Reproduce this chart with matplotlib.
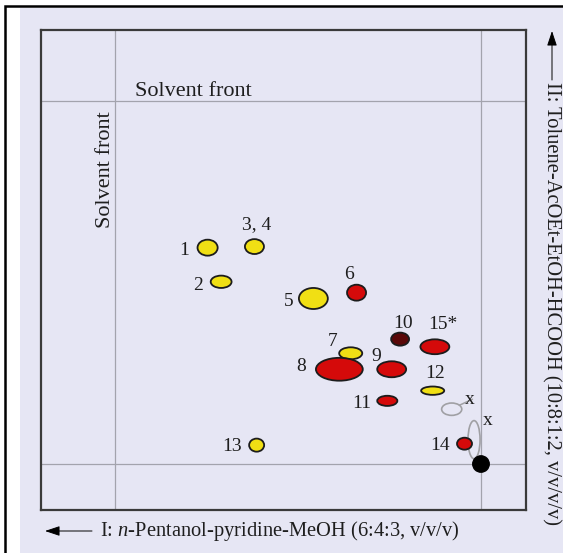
import matplotlib
matplotlib.use("Agg")
import matplotlib.pyplot as plt
from matplotlib.patches import Ellipse, Rectangle
from matplotlib.lines import Line2D
import numpy as np

plt.rcParams['font.family'] = ['Liberation Serif', 'DejaVu Serif']
plt.rcParams['mathtext.fontset'] = 'custom'
plt.rcParams['mathtext.rm'] = 'Liberation Serif'
plt.rcParams['mathtext.it'] = 'Liberation Serif:italic'

# ---------------- data (Rf values on the 2D TLC plate) ----------------
labels = ['1', '3, 4', '2', '5', '6', '7', '8', '9', '10', '11', '12', '13', '14', '15*']
rf_I = [0.747, 0.619, 0.710, 0.458, 0.340, 0.356, 0.387, 0.244, 0.221, 0.256, 0.132, 0.613, 0.045, 0.126]
rf_II = [0.596, 0.599, 0.502, 0.456, 0.472, 0.305, 0.261, 0.261, 0.344, 0.174, 0.202, 0.052, 0.056, 0.323]
spot_w = [0.055, 0.052, 0.057, 0.079, 0.052, 0.063, 0.128, 0.079, 0.049, 0.055, 0.063, 0.041, 0.041, 0.079]
spot_h = [0.044, 0.041, 0.034, 0.058, 0.044, 0.033, 0.063, 0.044, 0.036, 0.028, 0.023, 0.036, 0.033, 0.041]
spot_colour = ['yellow', 'yellow', 'yellow', 'yellow', 'red', 'yellow', 'red', 'red', 'brown',
               'red', 'yellow', 'yellow', 'red', 'red']

unknown_labels = ['x', 'x']
unknown_rf_I = [0.080, 0.019]
unknown_rf_II = [0.151, 0.067]
unknown_w = [0.055, 0.033]
unknown_h = [0.034, 0.105]

origin_rf = [0.0, 0.0]
solvent_front_rf = 1.0

axis_I_title = 'I: $n$-Pentanol-pyridine-MeOH (6:4:3, v/v/v)'
axis_II_title = 'II: Toluene-AcOEt-EtOH-HCOOH (10:8:1:2, v/v/v/v)'
front_label = 'Solvent front'

# ---------------- styles / layout ----------------
colour_map = {'yellow': '#f0df14', 'red': '#d50a0a', 'brown': '#5a0808'}
label_offsets = {  # pixels (dx, dy up)
    '1': (-23, -3), '3, 4': (2, 22), '2': (-23, -4), '5': (-25, -3), '6': (-8, 18),
    '7': (-18, 12), '8': (-38, 3), '9': (-15, 13), '10': (3, 16), '11': (-26, -3),
    '12': (2, 17), '13': (-25, -1), '14': (-24, -2), '15*': (8, 22)}
unknown_offsets = [(18, 10), (14, 19)]
text_colour = '#1e1e1e'

W, H = 563, 553
fig = plt.figure(figsize=(W / 100, H / 100), dpi=100)
fig.patch.set_facecolor('white')

bg = fig.add_axes([0, 0, 1, 1], zorder=0)
bg.set_xlim(0, W)
bg.set_ylim(H, 0)
bg.axis('off')
bg.add_patch(Rectangle((20, 8), W - 20, H - 8, facecolor='#e6e6f4', edgecolor='none'))
bg.add_line(Line2D([5, 5, W], [H, 6, 6], color='black', lw=1.8, solid_joinstyle='miter'))

# axis direction arrows + titles
bg.annotate('', xy=(45, 531), xytext=(92, 531),
            arrowprops=dict(arrowstyle='-|>,head_length=0.9,head_width=0.3', color='black',
                            lw=0.7, shrinkA=0, shrinkB=0))
bg.text(100, 531, axis_I_title, fontsize=14.8, color=text_colour, ha='left', va='center')
bg.annotate('', xy=(552, 31), xytext=(552, 80),
            arrowprops=dict(arrowstyle='-|>,head_length=0.9,head_width=0.3', color='black',
                            lw=0.7, shrinkA=0, shrinkB=0))
bg.text(551, 82, axis_II_title, fontsize=14.8, color=text_colour, rotation=270,
        ha='center', va='top')

# ---------------- plate ----------------
x0, x1, y0, y1 = 41, 526, 29.5, 510
ax = fig.add_axes([x0 / W, 1 - y1 / H, (x1 - x0) / W, (y1 - y0) / H], zorder=1)
ax.set_facecolor('none')
ax.set_xlim(1.2022, -0.1230)
ax.set_ylim(-0.1267, 1.197)
ax.set_xticks([])
ax.set_yticks([])
for s in ax.spines.values():
    s.set_color('#3a3a3a')
    s.set_linewidth(1.6)

line_kw = dict(color='#a3a3ad', lw=0.9, zorder=1)
ax.axvline(solvent_front_rf, **line_kw)
ax.axvline(origin_rf[0], **line_kw)
ax.axhline(solvent_front_rf, **line_kw)
ax.axhline(origin_rf[1], **line_kw)

ax.text(0.786, solvent_front_rf, front_label, fontsize=16, color=text_colour,
        ha='center', va='bottom')
ax.text(1.0, 0.810, front_label, fontsize=16, color=text_colour, rotation=90,
        ha='right', va='center')

for lab, xi, yi, w, h, c in zip(labels, rf_I, rf_II, spot_w, spot_h, spot_colour):
    ax.add_patch(Ellipse((xi, yi), w, h, facecolor=colour_map[c], edgecolor='#1c1c1c',
                         lw=1.3, zorder=3))
    ax.annotate(lab, (xi, yi), xytext=label_offsets[lab], textcoords='offset pixels',
                fontsize=14, color=text_colour, ha='center', va='center', zorder=4)

for lab, xi, yi, w, h, off in zip(unknown_labels, unknown_rf_I, unknown_rf_II,
                                  unknown_w, unknown_h, unknown_offsets):
    ax.add_patch(Ellipse((xi, yi), w, h, facecolor='none', edgecolor='#a0a0a4',
                         lw=1.2, zorder=2))
    ax.annotate(lab, (xi, yi), xytext=off, textcoords='offset pixels',
                fontsize=14, color=text_colour, ha='center', va='center', zorder=4)

# connector from the first unknown spot to its label
ang = np.deg2rad(40)
ax.annotate('', xy=(unknown_rf_I[0] - unknown_w[0] / 2 * np.cos(ang),
                    unknown_rf_II[0] + unknown_h[0] / 2 * np.sin(ang)),
            xytext=(unknown_offsets[0][0] - 5, unknown_offsets[0][1] - 4),
            textcoords='offset pixels',
            arrowprops=dict(arrowstyle='-', color='#a0a0a4', lw=1.1, shrinkA=0, shrinkB=0))

ax.add_patch(Ellipse((origin_rf[0], origin_rf[1]), 0.045, 0.045, facecolor='black',
                     edgecolor='black', zorder=5))

fig.savefig('out.png', dpi=100, facecolor=fig.get_facecolor())
